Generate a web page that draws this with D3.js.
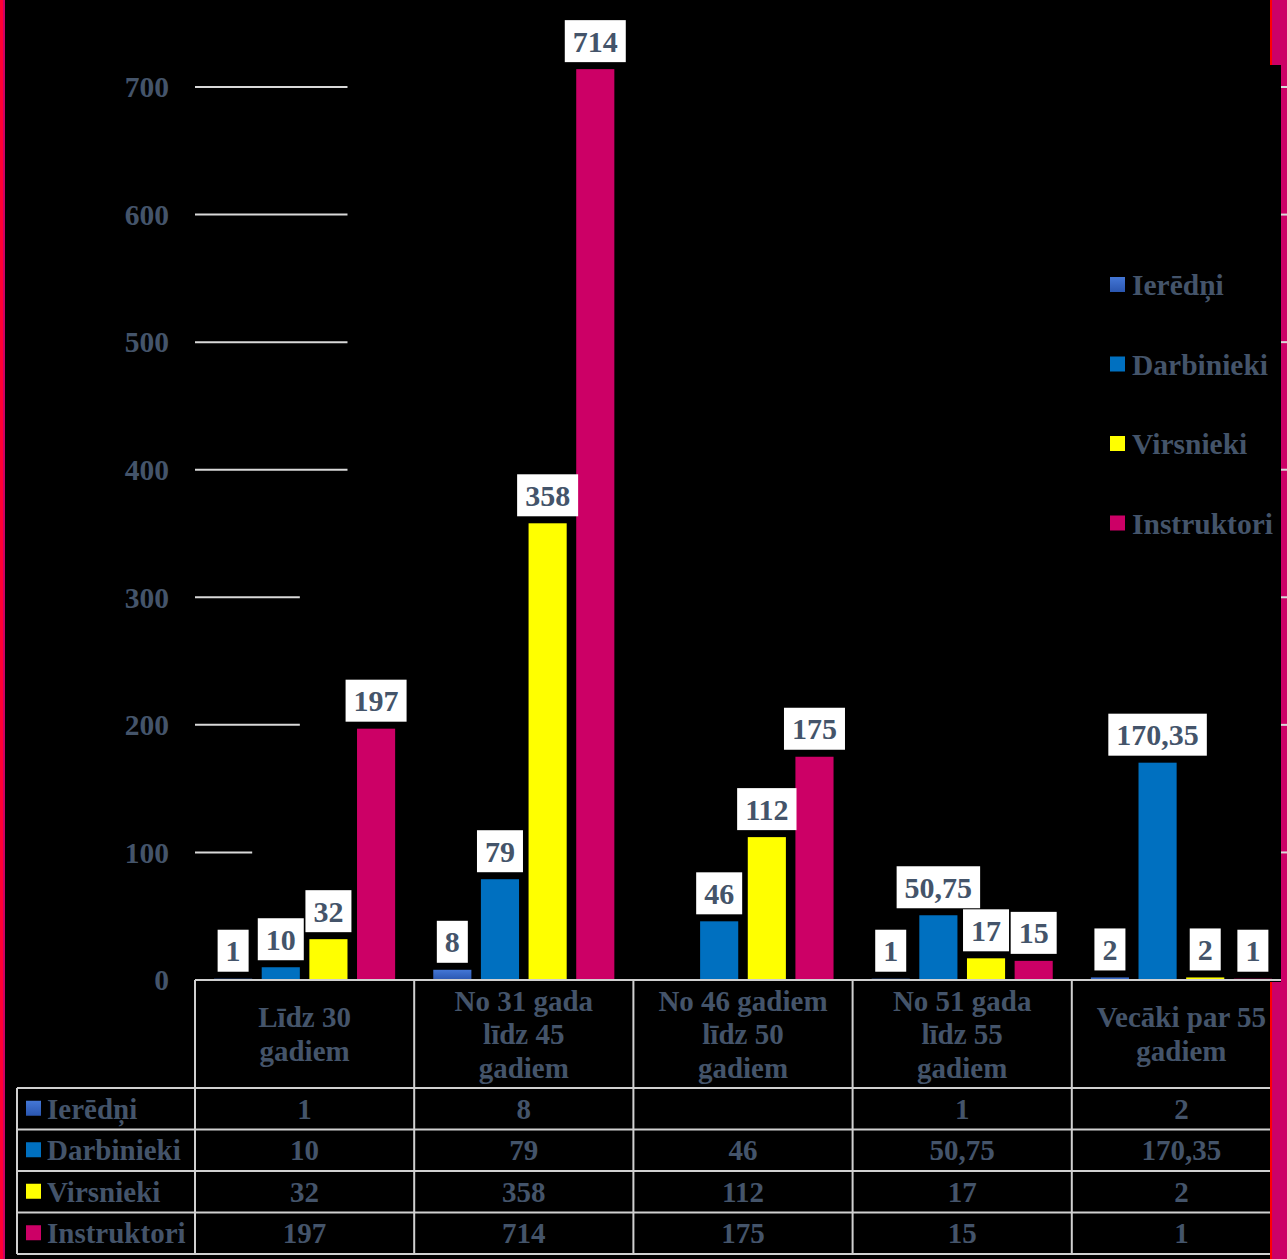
<!DOCTYPE html>
<html>
<head>
<meta charset="utf-8">
<script src="https://cdn.jsdelivr.net/npm/d3@7"></script>
<style>
  html, body { margin: 0; padding: 0; background: #000; }
  svg { display: block; }
  text { font-family: "Liberation Serif", "Times New Roman", serif; font-weight: bold; fill: #44546A; }
</style>
</head>
<body>
<div id="chart"></div>
<script>
// data
var categories = [
    ["Līdz 30", "gadiem"],
    ["No 31 gada", "līdz 45", "gadiem"],
    ["No 46 gadiem", "līdz 50", "gadiem"],
    ["No 51 gada", "līdz 55", "gadiem"],
    ["Vecāki par 55", "gadiem"]
];
var seriesNames = ["Ierēdņi", "Darbinieki", "Virsnieki", "Instruktori"];
var seriesColors = ["#3665C8", "#0070C0", "#FFFF00", "#CC0066"];
var ieredni     = [1, 8, null, 1, 2];
var darbinieki  = [10, 79, 46, 50.75, 170.35];
var virsnieki   = [32, 358, 112, 17, 2];
var instruktori = [197, 714, 175, 15, 1];
var yTicks = [0, 100, 200, 300, 400, 500, 600, 700];

var values = [ieredni, darbinieki, virsnieki, instruktori];
var fmt = v => String(v).replace(".", ",");

var W = 1287, H = 1259;
var svg = d3.select("#chart").append("svg")
    .attr("width", W).attr("height", H)
    .style("background", "#000");

var defs = svg.append("defs");
var grad = defs.append("linearGradient").attr("id", "gIer")
    .attr("x1", 0).attr("y1", 0).attr("x2", 0).attr("y2", 1);
grad.append("stop").attr("offset", "0%").attr("stop-color", "#4477D6");
grad.append("stop").attr("offset", "100%").attr("stop-color", "#2A56B0");
var fills = ["url(#gIer)", seriesColors[1], seriesColors[2], seriesColors[3]];

var x = d3.scaleBand()
    .domain(d3.range(categories.length))
    .range([195, 1291]);
var xs = d3.scaleBand()
    .domain(seriesNames)
    .range([0, x.bandwidth()])
    .paddingInner(0.2)
    .paddingOuter(0.4);
var y = d3.scaleLinear()
    .domain([0, 700])
    .range([980, 87]);

// gridlines (only partly visible in the original)
var gridEnd = v => x(0) + xs(seriesNames[v >= 400 ? 2 : v >= 200 ? 1 : 0]) + xs.bandwidth();
var grid = svg.append("g");
grid.selectAll("line")
    .data(yTicks.filter(d => d > 0))
    .enter().append("line")
    .attr("x1", 195).attr("x2", d => gridEnd(d))
    .attr("y1", d => y(d)).attr("y2", d => y(d))
    .attr("stroke", "#D9D9D9").attr("stroke-width", 2);

// y axis labels
svg.append("g").selectAll("text")
    .data(yTicks)
    .enter().append("text")
    .attr("x", 169).attr("y", d => y(d))
    .attr("dy", "0.35em")
    .attr("text-anchor", "end")
    .style("font-size", "29.5px")
    .text(d => d);

// bars
var flat = [];
values.forEach((arr, si) => arr.forEach((v, ci) => {
    if (v != null) flat.push({s: si, c: ci, v: v});
}));

svg.append("g").selectAll("rect")
    .data(flat)
    .enter().append("rect")
    .attr("x", d => x(d.c) + xs(seriesNames[d.s]))
    .attr("y", d => y(d.v))
    .attr("width", xs.bandwidth())
    .attr("height", d => y(0) - y(d.v))
    .attr("fill", d => fills[d.s]);

// data labels
var lab = svg.append("g").selectAll("g")
    .data(flat)
    .enter().append("g");
lab.append("rect").attr("fill", "#fff");
lab.append("text")
    .attr("text-anchor", "middle")
    .style("font-size", "30px")
    .attr("x", d => x(d.c) + xs(seriesNames[d.s]) + xs.bandwidth() / 2)
    .attr("y", d => y(d.v) - 7 - 21)
    .attr("dy", "0.35em")
    .text(d => fmt(d.v));
lab.each(function(d) {
    var g = d3.select(this);
    var w = g.select("text").node().getComputedTextLength() + 16;
    var cx = x(d.c) + xs(seriesNames[d.s]) + xs.bandwidth() / 2;
    g.select("rect")
        .attr("x", cx - w / 2).attr("y", y(d.v) - 7 - 42)
        .attr("width", w).attr("height", 42);
});

// data table
var rowTop = 1088, rowH = 41.5, tableRight = 1287;
var lineColor = "#D0D0D0";
var tbl = svg.append("g");

// header text
categories.forEach((lines, ci) => {
    var cx = x(ci) + x.bandwidth() / 2;
    var lh = 33.5;
    var mid = (980 + rowTop) / 2;
    lines.forEach((t, li) => {
        tbl.append("text")
            .attr("x", cx)
            .attr("y", mid + (li - (lines.length - 1) / 2) * lh)
            .attr("dy", "0.35em")
            .attr("text-anchor", "middle")
            .style("font-size", "29px")
            .text(t);
    });
});

// rows
seriesNames.forEach((name, si) => {
    var cy = rowTop + si * rowH + rowH / 2;
    tbl.append("rect")
        .attr("x", 26).attr("y", cy - 8)
        .attr("width", 15).attr("height", 15)
        .attr("fill", fills[si]);
    tbl.append("text")
        .attr("x", 47).attr("y", cy)
        .attr("dy", "0.35em")
        .style("font-size", "29px")
        .text(name);
    values[si].forEach((v, ci) => {
        if (v == null) return;
        tbl.append("text")
            .attr("x", x(ci) + x.bandwidth() / 2)
            .attr("y", cy)
            .attr("dy", "0.35em")
            .attr("text-anchor", "middle")
            .style("font-size", "29px")
            .text(fmt(v));
    });
});

// table lines
var hl = [{y: 980, x1: 195}];
d3.range(seriesNames.length + 1).forEach(i => hl.push({y: rowTop + i * rowH, x1: 17}));
tbl.selectAll("line.h")
    .data(hl)
    .enter().append("line")
    .attr("x1", d => d.x1).attr("x2", tableRight)
    .attr("y1", d => d.y).attr("y2", d => d.y)
    .attr("stroke", lineColor).attr("stroke-width", 2);
var vl = d3.range(categories.length).map(ci => ({x: x(ci), y1: 980}));
vl.push({x: 17, y1: rowTop});
tbl.selectAll("line.v")
    .data(vl)
    .enter().append("line")
    .attr("x1", d => d.x).attr("x2", d => d.x)
    .attr("y1", d => d.y1).attr("y2", rowTop + seriesNames.length * rowH)
    .attr("stroke", lineColor).attr("stroke-width", 2);

// legend
var leg = svg.append("g").selectAll("g")
    .data(seriesNames)
    .enter().append("g")
    .attr("transform", (d, i) => "translate(1110," + (285 + i * 79.5) + ")");
leg.append("rect")
    .attr("x", 0).attr("y", -8)
    .attr("width", 15).attr("height", 15)
    .attr("fill", (d, i) => fills[i]);
leg.append("text")
    .attr("x", 22).attr("y", 0)
    .attr("dy", "0.35em")
    .style("font-size", "29.5px")
    .text(d => d);

// frame strips
var frame = svg.append("g");
frame.append("rect").attr("x", 0).attr("y", 0).attr("width", 5).attr("height", H).attr("fill", "#CC0066");
frame.append("rect").attr("x", 0).attr("y", 0).attr("width", 3).attr("height", H).attr("fill", "#FF0033");
frame.append("rect").attr("x", 1270).attr("y", 0).attr("width", 17).attr("height", 65).attr("fill", "#CC0066");
frame.append("rect").attr("x", 1270).attr("y", 0).attr("width", 2).attr("height", 65).attr("fill", "#FF0000");
frame.append("rect").attr("x", 1281).attr("y", 65).attr("width", 6).attr("height", 917).attr("fill", "#CC0066");
frame.append("rect").attr("x", 1270).attr("y", 982).attr("width", 17).attr("height", H - 982).attr("fill", "#CC0066");
frame.append("rect").attr("x", 1270).attr("y", 982).attr("width", 2).attr("height", H - 982).attr("fill", "#FF0000");
frame.selectAll("line")
    .data(yTicks.filter(d => d > 0))
    .enter().append("line")
    .attr("x1", 1281).attr("x2", 1287)
    .attr("y1", d => y(d)).attr("y2", d => y(d))
    .attr("stroke", "#D9D9D9").attr("stroke-width", 2);
</script>
</body>
</html>
